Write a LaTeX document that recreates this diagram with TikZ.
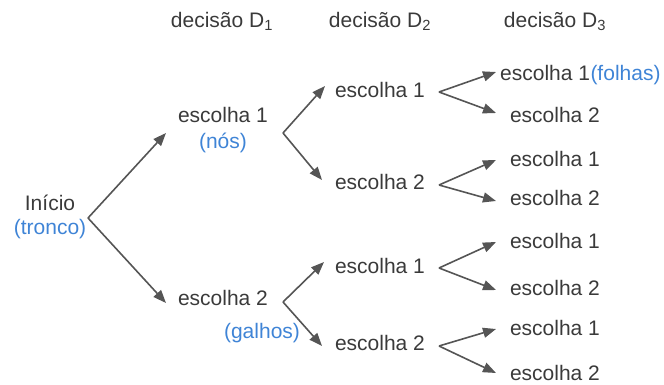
\documentclass[tikz,border=0pt]{standalone}
\usepackage{fontspec}
\setmainfont{Liberation Sans}
\usetikzlibrary{arrows.meta}
\definecolor{txt}{HTML}{3A3A3A}
\definecolor{blu}{HTML}{3F84D6}
\definecolor{arr}{HTML}{555555}
\begin{document}
\begin{tikzpicture}[x=1pt,y=-1pt,
  lbl/.style={font=\fontsize{21}{24}\selectfont, text=txt, inner sep=0pt, text height=15pt, text depth=4pt},
  note/.style={lbl, text=blu},
  arrw/.style={draw=arr, line width=1.6pt, -{Triangle[length=13pt,width=10pt]}}]
\useasboundingbox (0,0) rectangle (664,385);
% headers
\node[lbl] (h1) at (222,22) {decisão D\textsubscript{1}};
\node[lbl] (h2) at (380,22) {decisão D\textsubscript{2}};
\node[lbl] (h3) at (555,22) {decisão D\textsubscript{3}};
% root
\node[lbl] (root) at (50,205) {Início};
\node[note] (tronco) at (50,229) {(tronco)};
% level 1
\node[lbl] (a1) at (223,117) {escolha 1};
\node[note] (nos) at (223,143) {(nós)};
\node[lbl] (a2) at (223,300) {escolha 2};
\node[note] (galhos) at (262,333) {(galhos)};
% level 2
\node[lbl] (b1) at (380,92) {escolha 1};
\node[lbl] (b2) at (380,184) {escolha 2};
\node[lbl] (b3) at (380,268) {escolha 1};
\node[lbl] (b4) at (380,345) {escolha 2};
% level 3
\node[lbl,anchor=west] (c1) at (500,75) {escolha 1};
\node[note,anchor=west] (folhas) at (c1.east) {(folhas)};
\node[lbl] (c2) at (555,117) {escolha 2};
\node[lbl] (c3) at (555,161) {escolha 1};
\node[lbl] (c4) at (555,200) {escolha 2};
\node[lbl] (c5) at (555,243) {escolha 1};
\node[lbl] (c6) at (555,290) {escolha 2};
\node[lbl] (c7) at (555,330) {escolha 1};
\node[lbl] (c8) at (555,375) {escolha 2};
% branch vertices
\coordinate (v0) at (88,218);
\coordinate (v1) at (283,133);
\coordinate (v2) at (283,302);
\coordinate (w1) at (439,92);
\coordinate (w2) at (439,185);
\coordinate (w3) at (439,268);
\coordinate (w4) at (439,346);
% arrow tips
\coordinate (ta1) at (166,133);
\coordinate (ta2) at (166,303);
\coordinate (tb1) at (325,86);
\coordinate (tb2) at (322,180);
\coordinate (tb3) at (324,262);
\coordinate (tb4) at (322,346);
\coordinate (tc1) at (496,72);
\coordinate (tc2) at (496,113);
\coordinate (tc3) at (496,160);
\coordinate (tc4) at (496,201);
\coordinate (tc5) at (496,242);
\coordinate (tc6) at (496,290);
\coordinate (tc7) at (496,329);
\coordinate (tc8) at (496,373);
% connectors
\draw[arrw] (v0) -- (ta1);
\draw[arrw] (v0) -- (ta2);
\draw[arrw] (v1) -- (tb1);
\draw[arrw] (v1) -- (tb2);
\draw[arrw] (v2) -- (tb3);
\draw[arrw] (v2) -- (tb4);
\draw[arrw] (w1) -- (tc1);
\draw[arrw] (w1) -- (tc2);
\draw[arrw] (w2) -- (tc3);
\draw[arrw] (w2) -- (tc4);
\draw[arrw] (w3) -- (tc5);
\draw[arrw] (w3) -- (tc6);
\draw[arrw] (w4) -- (tc7);
\draw[arrw] (w4) -- (tc8);
\end{tikzpicture}
\end{document}
